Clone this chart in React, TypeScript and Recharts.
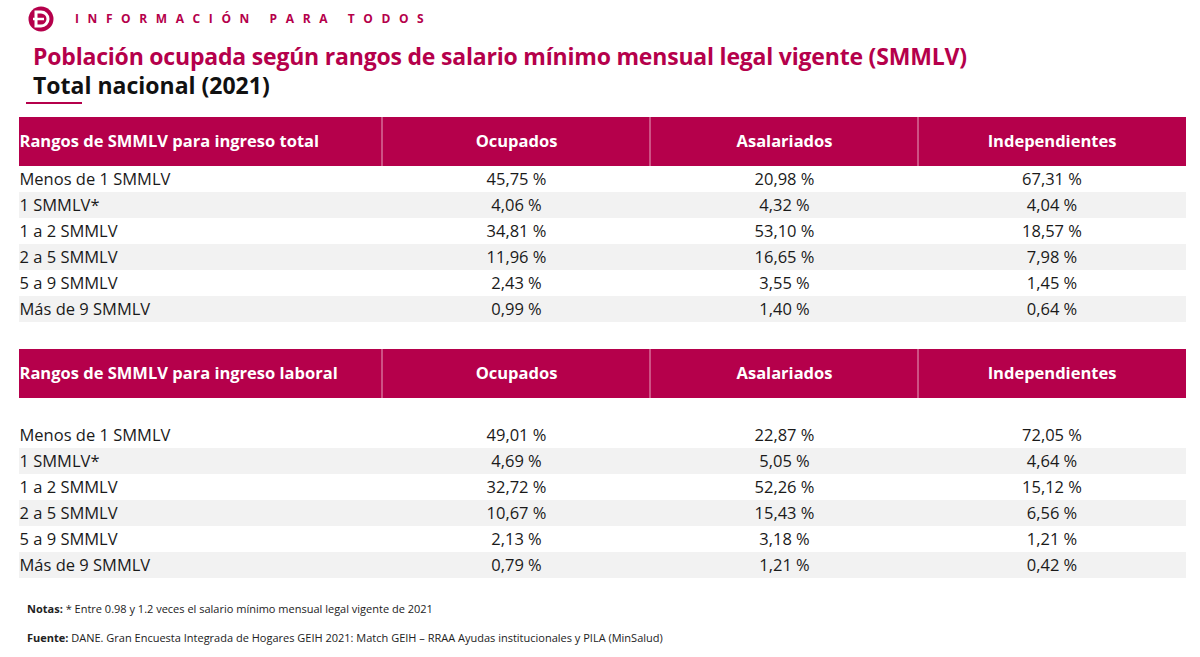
import React from "react";
import { ScatterChart, Scatter, XAxis, YAxis, ReferenceArea, ReferenceLine } from "recharts";

const WIDTH = 1200;
const HEIGHT = 657;
const CRIMSON = "#B5004B";
const FONT = "'Open Sans', sans-serif";

// ---- content ----
const brandLine = "INFORMACIÓN PARA TODOS";
const titleLine = "Población ocupada según rangos de salario mínimo mensual legal vigente (SMMLV)";
const subtitleLine = "Total nacional (2021)";
const columns = ["Ocupados", "Asalariados", "Independientes"];
const rowLabels = ["Menos de 1 SMMLV", "1 SMMLV*", "1 a 2 SMMLV", "2 a 5 SMMLV", "5 a 9 SMMLV", "Más de 9 SMMLV"];

const headTotal = "Rangos de SMMLV para ingreso total";
const ocupadosTotal = ["45,75 %", "4,06 %", "34,81 %", "11,96 %", "2,43 %", "0,99 %"];
const asalariadosTotal = ["20,98 %", "4,32 %", "53,10 %", "16,65 %", "3,55 %", "1,40 %"];
const independientesTotal = ["67,31 %", "4,04 %", "18,57 %", "7,98 %", "1,45 %", "0,64 %"];

const headLaboral = "Rangos de SMMLV para ingreso laboral";
const ocupadosLaboral = ["49,01 %", "4,69 %", "32,72 %", "10,67 %", "2,13 %", "0,79 %"];
const asalariadosLaboral = ["22,87 %", "5,05 %", "52,26 %", "15,43 %", "3,18 %", "1,21 %"];
const independientesLaboral = ["72,05 %", "4,64 %", "15,12 %", "6,56 %", "1,21 %", "0,42 %"];

const notaLabel = "Notas:";
const notaText = " * Entre 0.98 y 1.2 veces el salario mínimo mensual legal vigente de 2021";
const fuenteLabel = "Fuente:";
const fuenteText = " DANE. Gran Encuesta Integrada de Hogares GEIH 2021: Match GEIH – RRAA Ayudas institucionales y PILA (MinSalud)";

// ---- layout ----
const tableLeft = 19;
const tableRight = 1186;
const colEdges = [382, 650, 918];
const colCenters = [516.5, 784.5, 1052];
const labelX = 19.5;

const tables = [
  { head: headTotal, headTop: 117, headBottom: 166, firstRowTop: 166, rowH: 26, values: [ocupadosTotal, asalariadosTotal, independientesTotal] },
  { head: headLaboral, headTop: 349, headBottom: 398, firstRowTop: 422, rowH: 26, values: [ocupadosLaboral, asalariadosLaboral, independientesLaboral] },
];

type Pt = { x: number; y: number; text: React.ReactNode; anchor?: string };

const bodyPoints: Pt[] = [];
const headPoints: Pt[] = [];
tables.forEach((t) => {
  headPoints.push({ x: labelX, y: (t.headTop + t.headBottom) / 2, text: t.head, anchor: "start" });
  columns.forEach((c, j) => headPoints.push({ x: colCenters[j], y: (t.headTop + t.headBottom) / 2, text: c, anchor: "middle" }));
  rowLabels.forEach((r, i) => {
    const y = t.firstRowTop + t.rowH * i + t.rowH / 2;
    bodyPoints.push({ x: labelX, y, text: r, anchor: "start" });
    t.values.forEach((vals, j) => bodyPoints.push({ x: colCenters[j], y, text: vals[i], anchor: "middle" }));
  });
});

const textShape = (style: React.CSSProperties) => (props: any) => {
  const p = props.payload as Pt;
  return (
    <text x={props.cx} y={props.cy} dy="0.36em" textAnchor={p.anchor ?? "start"} style={{ fontFamily: FONT, ...style }}>
      {p.text}
    </text>
  );
};

const LogoMark = (props: any) => {
  const { cx, cy } = props;
  return (
    <g>
      <circle cx={cx} cy={cy} r={12.5} fill={CRIMSON} />
      <path
        d={`M ${cx - 5} ${cy - 7} H ${cx} A 7 7 0 0 1 ${cx} ${cy + 7} H ${cx - 5} Z`}
        fill="none"
        stroke="#fff"
        strokeWidth={3}
      />
      <path d={`M ${cx - 8} ${cy} H ${cx + 3}`} stroke="#fff" strokeWidth={2.5} />
    </g>
  );
};

const A = { isAnimationActive: false } as const;

export default function App() {
  return (
    <div style={{ position: "absolute", left: 0, top: 0, width: WIDTH, height: HEIGHT, background: "#fff" }}>
      <ScatterChart width={WIDTH} height={HEIGHT} margin={{ top: 0, right: 0, bottom: 0, left: 0 }}>
        <XAxis type="number" dataKey="x" domain={[0, WIDTH]} hide />
        <YAxis type="number" dataKey="y" domain={[0, HEIGHT]} reversed hide />

        {tables.map((t) => (
          <ReferenceArea key={t.head} x1={tableLeft} x2={tableRight} y1={t.headTop} y2={t.headBottom} fill={CRIMSON} fillOpacity={1} stroke="none" />
        ))}
        {tables.flatMap((t) =>
          colEdges.map((e) => (
            <ReferenceLine key={t.head + e} segment={[{ x: e, y: t.headTop }, { x: e, y: t.headBottom }]} stroke="#E6A3BE" strokeWidth={1} />
          ))
        )}
        {tables.flatMap((t) =>
          rowLabels.map((r, i) =>
            i % 2 === 1 ? (
              <ReferenceArea key={t.head + r} x1={tableLeft} x2={tableRight} y1={t.firstRowTop + t.rowH * i} y2={t.firstRowTop + t.rowH * (i + 1)} fill="#F2F2F2" fillOpacity={1} stroke="none" />
            ) : null
          )
        )}
        <ReferenceLine segment={[{ x: 26, y: 103 }, { x: 82, y: 103 }]} stroke={CRIMSON} strokeWidth={2} />

        <Scatter {...A} data={[{ x: 41, y: 19 }]} shape={LogoMark} />
        <Scatter {...A} data={[{ x: 75, y: 18.5, text: brandLine }]} shape={textShape({ fontSize: 12, fontWeight: 700, letterSpacing: "8.6px", fill: CRIMSON })} />
        <Scatter {...A} data={[{ x: 33, y: 57, text: titleLine }]} shape={textShape({ fontSize: 23, fontWeight: 700, letterSpacing: "-0.2px", fill: CRIMSON })} />
        <Scatter {...A} data={[{ x: 33, y: 86, text: subtitleLine }]} shape={textShape({ fontSize: 23, fontWeight: 700, fill: "#111" })} />
        <Scatter {...A} data={headPoints} shape={textShape({ fontSize: 16.5, fontWeight: 700, fill: "#fff" })} />
        <Scatter {...A} data={bodyPoints} shape={textShape({ fontSize: 16.5, fill: "#1a1a1a" })} />
        <Scatter
          {...A}
          data={[{ x: 27, y: 609, text: (<><tspan fontWeight={700}>{notaLabel}</tspan>{notaText}</>) }]}
          shape={textShape({ fontSize: 11, fill: "#222" })}
        />
        <Scatter
          {...A}
          data={[{ x: 27, y: 638, text: (<><tspan fontWeight={700}>{fuenteLabel}</tspan>{fuenteText}</>) }]}
          shape={textShape({ fontSize: 11, fill: "#222" })}
        />
      </ScatterChart>
    </div>
  );
}
